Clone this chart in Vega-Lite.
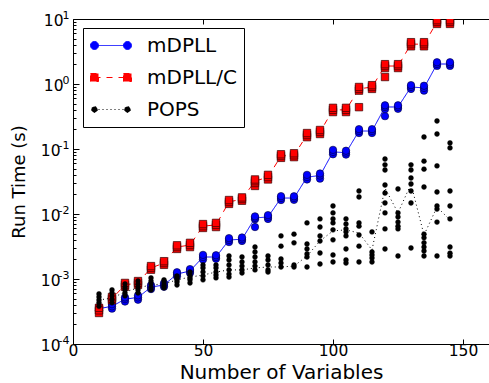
{
"$schema": "https://vega.github.io/schema/vega-lite/v6.json",
"width": 416, "height": 325,
"autosize": {"type": "none"},
"padding": {"left": 73, "top": 19, "right": 0, "bottom": 40},
"config": {"view": {"stroke": "black", "strokeWidth": 1}, "font": "DejaVu Sans"},
"datasets": {
"curve": [
{"x":10,"s":"mDPLL","t":0.00035},{"x":15,"s":"mDPLL","t":0.00038},{"x":20,"s":"mDPLL","t":0.00049},{"x":25,"s":"mDPLL","t":0.00052},{"x":30,"s":"mDPLL","t":0.00075},{"x":35,"s":"mDPLL","t":0.00081},{"x":40,"s":"mDPLL","t":0.00119},{"x":45,"s":"mDPLL","t":0.00133},{"x":50,"s":"mDPLL","t":0.00218},{"x":55,"s":"mDPLL","t":0.00218},{"x":60,"s":"mDPLL","t":0.00398},{"x":65,"s":"mDPLL","t":0.0041},{"x":70,"s":"mDPLL","t":0.0087},{"x":75,"s":"mDPLL","t":0.009},{"x":80,"s":"mDPLL","t":0.0176},{"x":85,"s":"mDPLL","t":0.0176},{"x":90,"s":"mDPLL","t":0.037},{"x":95,"s":"mDPLL","t":0.039},{"x":100,"s":"mDPLL","t":0.09},{"x":105,"s":"mDPLL","t":0.088},{"x":110,"s":"mDPLL","t":0.189},{"x":115,"s":"mDPLL","t":0.189},{"x":120,"s":"mDPLL","t":0.443},{"x":125,"s":"mDPLL","t":0.443},{"x":130,"s":"mDPLL","t":0.9},{"x":135,"s":"mDPLL","t":0.87},{"x":140,"s":"mDPLL","t":2.03},{"x":145,"s":"mDPLL","t":2.03},
{"x":10,"s":"mDPLL/C","t":0.00033},{"x":15,"s":"mDPLL/C","t":0.0005},{"x":20,"s":"mDPLL/C","t":0.00081},{"x":25,"s":"mDPLL/C","t":0.00087},{"x":30,"s":"mDPLL/C","t":0.00148},{"x":35,"s":"mDPLL/C","t":0.00176},{"x":40,"s":"mDPLL/C","t":0.0031},{"x":45,"s":"mDPLL/C","t":0.00333},{"x":50,"s":"mDPLL/C","t":0.0065},{"x":55,"s":"mDPLL/C","t":0.0068},{"x":60,"s":"mDPLL/C","t":0.0153},{"x":65,"s":"mDPLL/C","t":0.017},{"x":70,"s":"mDPLL/C","t":0.032},{"x":75,"s":"mDPLL/C","t":0.037},{"x":80,"s":"mDPLL/C","t":0.078},{"x":85,"s":"mDPLL/C","t":0.08},{"x":90,"s":"mDPLL/C","t":0.164},{"x":95,"s":"mDPLL/C","t":0.183},{"x":100,"s":"mDPLL/C","t":0.4},{"x":105,"s":"mDPLL/C","t":0.4},{"x":110,"s":"mDPLL/C","t":0.84},{"x":115,"s":"mDPLL/C","t":0.9},{"x":120,"s":"mDPLL/C","t":1.89},{"x":125,"s":"mDPLL/C","t":1.89},{"x":130,"s":"mDPLL/C","t":4.1},{"x":135,"s":"mDPLL/C","t":4.1},{"x":140,"s":"mDPLL/C","t":9.0},{"x":145,"s":"mDPLL/C","t":9.0},
{"x":10,"s":"POPS","t":0.000475},{"x":15,"s":"POPS","t":0.00051},{"x":20,"s":"POPS","t":0.00063},{"x":25,"s":"POPS","t":0.00073},{"x":30,"s":"POPS","t":0.00081},{"x":35,"s":"POPS","t":0.00084},{"x":40,"s":"POPS","t":0.00097},{"x":45,"s":"POPS","t":0.00107},{"x":50,"s":"POPS","t":0.00115},{"x":55,"s":"POPS","t":0.00128},{"x":60,"s":"POPS","t":0.00138},{"x":65,"s":"POPS","t":0.00138},{"x":70,"s":"POPS","t":0.00148},{"x":75,"s":"POPS","t":0.00153},{"x":80,"s":"POPS","t":0.00153},{"x":85,"s":"POPS","t":0.00158},{"x":90,"s":"POPS","t":0.00226},{"x":95,"s":"POPS","t":0.00385},{"x":100,"s":"POPS","t":0.0055},{"x":105,"s":"POPS","t":0.0057},{"x":110,"s":"POPS","t":0.0051},{"x":115,"s":"POPS","t":0.0028},{"x":120,"s":"POPS","t":0.025},{"x":125,"s":"POPS","t":0.0104},{"x":130,"s":"POPS","t":0.029},{"x":135,"s":"POPS","t":0.00475},{"x":140,"s":"POPS","t":0.0128},{"x":145,"s":"POPS","t":0.0081}
],
"runs": [
{"x":10,"s":"mDPLL","t":0.00033},{"x":10,"s":"mDPLL","t":0.00035},{"x":10,"s":"mDPLL","t":0.00037},
{"x":15,"s":"mDPLL","t":0.00035},{"x":15,"s":"mDPLL","t":0.00038},{"x":15,"s":"mDPLL","t":0.00041},
{"x":20,"s":"mDPLL","t":0.00045},{"x":20,"s":"mDPLL","t":0.00049},{"x":20,"s":"mDPLL","t":0.00052},
{"x":25,"s":"mDPLL","t":0.00048},{"x":25,"s":"mDPLL","t":0.00052},{"x":25,"s":"mDPLL","t":0.00056},
{"x":30,"s":"mDPLL","t":0.0007},{"x":30,"s":"mDPLL","t":0.00075},{"x":30,"s":"mDPLL","t":0.0008},
{"x":35,"s":"mDPLL","t":0.00076},{"x":35,"s":"mDPLL","t":0.00081},{"x":35,"s":"mDPLL","t":0.00086},
{"x":40,"s":"mDPLL","t":0.0011},{"x":40,"s":"mDPLL","t":0.00119},{"x":40,"s":"mDPLL","t":0.00127},
{"x":45,"s":"mDPLL","t":0.00124},{"x":45,"s":"mDPLL","t":0.00133},{"x":45,"s":"mDPLL","t":0.00142},
{"x":50,"s":"mDPLL","t":0.002},{"x":50,"s":"mDPLL","t":0.00218},{"x":50,"s":"mDPLL","t":0.00235},
{"x":55,"s":"mDPLL","t":0.00205},{"x":55,"s":"mDPLL","t":0.00218},{"x":55,"s":"mDPLL","t":0.00232},
{"x":60,"s":"mDPLL","t":0.0037},{"x":60,"s":"mDPLL","t":0.00398},{"x":60,"s":"mDPLL","t":0.00425},
{"x":65,"s":"mDPLL","t":0.00385},{"x":65,"s":"mDPLL","t":0.0041},{"x":65,"s":"mDPLL","t":0.00435},
{"x":70,"s":"mDPLL","t":0.0063},{"x":70,"s":"mDPLL","t":0.0083},{"x":70,"s":"mDPLL","t":0.0087},{"x":70,"s":"mDPLL","t":0.0092},
{"x":75,"s":"mDPLL","t":0.0084},{"x":75,"s":"mDPLL","t":0.009},{"x":75,"s":"mDPLL","t":0.0096},
{"x":80,"s":"mDPLL","t":0.0164},{"x":80,"s":"mDPLL","t":0.0176},{"x":80,"s":"mDPLL","t":0.0188},
{"x":85,"s":"mDPLL","t":0.0165},{"x":85,"s":"mDPLL","t":0.0176},{"x":85,"s":"mDPLL","t":0.0187},
{"x":90,"s":"mDPLL","t":0.034},{"x":90,"s":"mDPLL","t":0.037},{"x":90,"s":"mDPLL","t":0.04},
{"x":95,"s":"mDPLL","t":0.035},{"x":95,"s":"mDPLL","t":0.039},{"x":95,"s":"mDPLL","t":0.042},
{"x":100,"s":"mDPLL","t":0.083},{"x":100,"s":"mDPLL","t":0.09},{"x":100,"s":"mDPLL","t":0.097},
{"x":105,"s":"mDPLL","t":0.082},{"x":105,"s":"mDPLL","t":0.088},{"x":105,"s":"mDPLL","t":0.094},
{"x":110,"s":"mDPLL","t":0.176},{"x":110,"s":"mDPLL","t":0.189},{"x":110,"s":"mDPLL","t":0.202},
{"x":115,"s":"mDPLL","t":0.176},{"x":115,"s":"mDPLL","t":0.189},{"x":115,"s":"mDPLL","t":0.202},
{"x":120,"s":"mDPLL","t":0.32},{"x":120,"s":"mDPLL","t":0.41},{"x":120,"s":"mDPLL","t":0.443},{"x":120,"s":"mDPLL","t":0.47},
{"x":125,"s":"mDPLL","t":0.415},{"x":125,"s":"mDPLL","t":0.443},{"x":125,"s":"mDPLL","t":0.47},
{"x":130,"s":"mDPLL","t":0.84},{"x":130,"s":"mDPLL","t":0.9},{"x":130,"s":"mDPLL","t":0.96},
{"x":135,"s":"mDPLL","t":0.79},{"x":135,"s":"mDPLL","t":0.87},{"x":135,"s":"mDPLL","t":0.94},
{"x":140,"s":"mDPLL","t":1.9},{"x":140,"s":"mDPLL","t":2.03},{"x":140,"s":"mDPLL","t":2.16},
{"x":145,"s":"mDPLL","t":1.9},{"x":145,"s":"mDPLL","t":2.03},{"x":145,"s":"mDPLL","t":2.16},
{"x":10,"s":"mDPLL/C","t":0.0003},{"x":10,"s":"mDPLL/C","t":0.00033},{"x":10,"s":"mDPLL/C","t":0.00036},
{"x":15,"s":"mDPLL/C","t":0.00047},{"x":15,"s":"mDPLL/C","t":0.0005},{"x":15,"s":"mDPLL/C","t":0.00053},
{"x":20,"s":"mDPLL/C","t":0.00076},{"x":20,"s":"mDPLL/C","t":0.00081},{"x":20,"s":"mDPLL/C","t":0.00087},
{"x":25,"s":"mDPLL/C","t":0.00081},{"x":25,"s":"mDPLL/C","t":0.00087},{"x":25,"s":"mDPLL/C","t":0.00093},
{"x":30,"s":"mDPLL/C","t":0.00139},{"x":30,"s":"mDPLL/C","t":0.00148},{"x":30,"s":"mDPLL/C","t":0.00158},
{"x":35,"s":"mDPLL/C","t":0.00165},{"x":35,"s":"mDPLL/C","t":0.00176},{"x":35,"s":"mDPLL/C","t":0.00188},
{"x":40,"s":"mDPLL/C","t":0.0029},{"x":40,"s":"mDPLL/C","t":0.0031},{"x":40,"s":"mDPLL/C","t":0.0033},
{"x":45,"s":"mDPLL/C","t":0.0031},{"x":45,"s":"mDPLL/C","t":0.00333},{"x":45,"s":"mDPLL/C","t":0.0036},
{"x":50,"s":"mDPLL/C","t":0.0061},{"x":50,"s":"mDPLL/C","t":0.0065},{"x":50,"s":"mDPLL/C","t":0.007},
{"x":55,"s":"mDPLL/C","t":0.0063},{"x":55,"s":"mDPLL/C","t":0.0068},{"x":55,"s":"mDPLL/C","t":0.0073},
{"x":60,"s":"mDPLL/C","t":0.0143},{"x":60,"s":"mDPLL/C","t":0.0153},{"x":60,"s":"mDPLL/C","t":0.0164},
{"x":65,"s":"mDPLL/C","t":0.016},{"x":65,"s":"mDPLL/C","t":0.017},{"x":65,"s":"mDPLL/C","t":0.018},
{"x":70,"s":"mDPLL/C","t":0.027},{"x":70,"s":"mDPLL/C","t":0.03},{"x":70,"s":"mDPLL/C","t":0.032},{"x":70,"s":"mDPLL/C","t":0.034},
{"x":75,"s":"mDPLL/C","t":0.034},{"x":75,"s":"mDPLL/C","t":0.037},{"x":75,"s":"mDPLL/C","t":0.04},
{"x":80,"s":"mDPLL/C","t":0.073},{"x":80,"s":"mDPLL/C","t":0.078},{"x":80,"s":"mDPLL/C","t":0.083},
{"x":85,"s":"mDPLL/C","t":0.075},{"x":85,"s":"mDPLL/C","t":0.08},{"x":85,"s":"mDPLL/C","t":0.086},
{"x":90,"s":"mDPLL/C","t":0.152},{"x":90,"s":"mDPLL/C","t":0.164},{"x":90,"s":"mDPLL/C","t":0.176},
{"x":95,"s":"mDPLL/C","t":0.17},{"x":95,"s":"mDPLL/C","t":0.183},{"x":95,"s":"mDPLL/C","t":0.196},
{"x":100,"s":"mDPLL/C","t":0.37},{"x":100,"s":"mDPLL/C","t":0.4},{"x":100,"s":"mDPLL/C","t":0.43},
{"x":105,"s":"mDPLL/C","t":0.37},{"x":105,"s":"mDPLL/C","t":0.4},{"x":105,"s":"mDPLL/C","t":0.43},
{"x":110,"s":"mDPLL/C","t":0.44},{"x":110,"s":"mDPLL/C","t":0.79},{"x":110,"s":"mDPLL/C","t":0.84},{"x":110,"s":"mDPLL/C","t":0.9},
{"x":115,"s":"mDPLL/C","t":0.84},{"x":115,"s":"mDPLL/C","t":0.9},{"x":115,"s":"mDPLL/C","t":0.96},
{"x":120,"s":"mDPLL/C","t":1.28},{"x":120,"s":"mDPLL/C","t":1.76},{"x":120,"s":"mDPLL/C","t":1.89},{"x":120,"s":"mDPLL/C","t":2.02},
{"x":125,"s":"mDPLL/C","t":1.76},{"x":125,"s":"mDPLL/C","t":1.89},{"x":125,"s":"mDPLL/C","t":2.02},
{"x":130,"s":"mDPLL/C","t":3.8},{"x":130,"s":"mDPLL/C","t":4.1},{"x":130,"s":"mDPLL/C","t":4.4},
{"x":135,"s":"mDPLL/C","t":3.8},{"x":135,"s":"mDPLL/C","t":4.1},{"x":135,"s":"mDPLL/C","t":4.4},
{"x":140,"s":"mDPLL/C","t":8.4},{"x":140,"s":"mDPLL/C","t":9.0},{"x":140,"s":"mDPLL/C","t":9.6},
{"x":145,"s":"mDPLL/C","t":8.4},{"x":145,"s":"mDPLL/C","t":9.0},{"x":145,"s":"mDPLL/C","t":9.6},
{"x":10,"s":"POPS","t":0.00059},{"x":10,"s":"POPS","t":0.00053},{"x":10,"s":"POPS","t":0.000475},{"x":10,"s":"POPS","t":0.00043},{"x":10,"s":"POPS","t":0.00038},
{"x":15,"s":"POPS","t":0.00068},{"x":15,"s":"POPS","t":0.00061},{"x":15,"s":"POPS","t":0.00055},{"x":15,"s":"POPS","t":0.00049},{"x":15,"s":"POPS","t":0.00043},
{"x":20,"s":"POPS","t":0.00084},{"x":20,"s":"POPS","t":0.00075},{"x":20,"s":"POPS","t":0.00068},{"x":20,"s":"POPS","t":0.00061},{"x":20,"s":"POPS","t":0.00055},
{"x":25,"s":"POPS","t":0.00093},{"x":25,"s":"POPS","t":0.00084},{"x":25,"s":"POPS","t":0.00075},{"x":25,"s":"POPS","t":0.00068},{"x":25,"s":"POPS","t":0.00061},
{"x":30,"s":"POPS","t":0.00104},{"x":30,"s":"POPS","t":0.00093},{"x":30,"s":"POPS","t":0.00084},{"x":30,"s":"POPS","t":0.00075},{"x":30,"s":"POPS","t":0.00068},
{"x":35,"s":"POPS","t":0.00097},{"x":35,"s":"POPS","t":0.0009},{"x":35,"s":"POPS","t":0.00084},{"x":35,"s":"POPS","t":0.00078},{"x":35,"s":"POPS","t":0.00073},
{"x":40,"s":"POPS","t":0.00111},{"x":40,"s":"POPS","t":0.00104},{"x":40,"s":"POPS","t":0.00097},{"x":40,"s":"POPS","t":0.0009},{"x":40,"s":"POPS","t":0.00081},
{"x":45,"s":"POPS","t":0.00128},{"x":45,"s":"POPS","t":0.00115},{"x":45,"s":"POPS","t":0.00104},{"x":45,"s":"POPS","t":0.00097},{"x":45,"s":"POPS","t":0.00087},
{"x":50,"s":"POPS","t":0.00164},{"x":50,"s":"POPS","t":0.00148},{"x":50,"s":"POPS","t":0.00128},{"x":50,"s":"POPS","t":0.00111},{"x":50,"s":"POPS","t":0.00097},
{"x":55,"s":"POPS","t":0.00164},{"x":55,"s":"POPS","t":0.00148},{"x":55,"s":"POPS","t":0.00128},{"x":55,"s":"POPS","t":0.00115},{"x":55,"s":"POPS","t":0.00104},
{"x":60,"s":"POPS","t":0.00226},{"x":60,"s":"POPS","t":0.00196},{"x":60,"s":"POPS","t":0.00164},{"x":60,"s":"POPS","t":0.00138},{"x":60,"s":"POPS","t":0.00119},{"x":60,"s":"POPS","t":0.00107},
{"x":65,"s":"POPS","t":0.00218},{"x":65,"s":"POPS","t":0.00183},{"x":65,"s":"POPS","t":0.00158},{"x":65,"s":"POPS","t":0.00138},{"x":65,"s":"POPS","t":0.00124},
{"x":70,"s":"POPS","t":0.0031},{"x":70,"s":"POPS","t":0.0026},{"x":70,"s":"POPS","t":0.00218},{"x":70,"s":"POPS","t":0.00183},{"x":70,"s":"POPS","t":0.00158},{"x":70,"s":"POPS","t":0.00138},
{"x":75,"s":"POPS","t":0.00226},{"x":75,"s":"POPS","t":0.00196},{"x":75,"s":"POPS","t":0.00164},{"x":75,"s":"POPS","t":0.00138},{"x":75,"s":"POPS","t":0.00128},
{"x":80,"s":"POPS","t":0.0046},{"x":80,"s":"POPS","t":0.0032},{"x":80,"s":"POPS","t":0.00203},{"x":80,"s":"POPS","t":0.00176},{"x":80,"s":"POPS","t":0.00153},
{"x":85,"s":"POPS","t":0.0049},{"x":85,"s":"POPS","t":0.0036},{"x":85,"s":"POPS","t":0.00164},{"x":85,"s":"POPS","t":0.00153},
{"x":90,"s":"POPS","t":0.0073},{"x":90,"s":"POPS","t":0.00345},{"x":90,"s":"POPS","t":0.0029},{"x":90,"s":"POPS","t":0.00243},{"x":90,"s":"POPS","t":0.00218},{"x":90,"s":"POPS","t":0.00153},
{"x":95,"s":"POPS","t":0.0084},{"x":95,"s":"POPS","t":0.0063},{"x":95,"s":"POPS","t":0.0046},{"x":95,"s":"POPS","t":0.00384},{"x":95,"s":"POPS","t":0.00251},{"x":95,"s":"POPS","t":0.0017},
{"x":100,"s":"POPS","t":0.0133},{"x":100,"s":"POPS","t":0.0104},{"x":100,"s":"POPS","t":0.0084},{"x":100,"s":"POPS","t":0.0073},{"x":100,"s":"POPS","t":0.0057},{"x":100,"s":"POPS","t":0.004},{"x":100,"s":"POPS","t":0.00234},{"x":100,"s":"POPS","t":0.00183},
{"x":105,"s":"POPS","t":0.0084},{"x":105,"s":"POPS","t":0.007},{"x":105,"s":"POPS","t":0.0059},{"x":105,"s":"POPS","t":0.0053},{"x":105,"s":"POPS","t":0.0046},{"x":105,"s":"POPS","t":0.0029},{"x":105,"s":"POPS","t":0.00196},{"x":105,"s":"POPS","t":0.00176},
{"x":110,"s":"POPS","t":0.0226},{"x":110,"s":"POPS","t":0.0183},{"x":110,"s":"POPS","t":0.0073},{"x":110,"s":"POPS","t":0.0065},{"x":110,"s":"POPS","t":0.00475},{"x":110,"s":"POPS","t":0.0032},{"x":110,"s":"POPS","t":0.00183},
{"x":115,"s":"POPS","t":0.0053},{"x":115,"s":"POPS","t":0.0026},{"x":115,"s":"POPS","t":0.00234},{"x":115,"s":"POPS","t":0.0021},{"x":115,"s":"POPS","t":0.00183},
{"x":120,"s":"POPS","t":0.07},{"x":120,"s":"POPS","t":0.057},{"x":120,"s":"POPS","t":0.0475},{"x":120,"s":"POPS","t":0.0279},{"x":120,"s":"POPS","t":0.021},{"x":120,"s":"POPS","t":0.0148},{"x":120,"s":"POPS","t":0.0104},{"x":120,"s":"POPS","t":0.0059},{"x":120,"s":"POPS","t":0.0029},
{"x":125,"s":"POPS","t":0.0243},{"x":125,"s":"POPS","t":0.0104},{"x":125,"s":"POPS","t":0.009},{"x":125,"s":"POPS","t":0.0075},{"x":125,"s":"POPS","t":0.0065},{"x":125,"s":"POPS","t":0.0059},{"x":125,"s":"POPS","t":0.00226},
{"x":130,"s":"POPS","t":0.057},{"x":130,"s":"POPS","t":0.0475},{"x":130,"s":"POPS","t":0.0358},{"x":130,"s":"POPS","t":0.029},{"x":130,"s":"POPS","t":0.0226},{"x":130,"s":"POPS","t":0.0148},{"x":130,"s":"POPS","t":0.003},
{"x":135,"s":"POPS","t":0.153},{"x":135,"s":"POPS","t":0.065},{"x":135,"s":"POPS","t":0.049},{"x":135,"s":"POPS","t":0.026},{"x":135,"s":"POPS","t":0.0049},{"x":135,"s":"POPS","t":0.0043},{"x":135,"s":"POPS","t":0.0036},{"x":135,"s":"POPS","t":0.0031},{"x":135,"s":"POPS","t":0.0027},{"x":135,"s":"POPS","t":0.00226},
{"x":140,"s":"POPS","t":0.27},{"x":140,"s":"POPS","t":0.17},{"x":140,"s":"POPS","t":0.055},{"x":140,"s":"POPS","t":0.0218},{"x":140,"s":"POPS","t":0.0133},{"x":140,"s":"POPS","t":0.0119},{"x":140,"s":"POPS","t":0.0075},{"x":140,"s":"POPS","t":0.00226},
{"x":145,"s":"POPS","t":0.124},{"x":145,"s":"POPS","t":0.104},{"x":145,"s":"POPS","t":0.0226},{"x":145,"s":"POPS","t":0.0133},{"x":145,"s":"POPS","t":0.0084},{"x":145,"s":"POPS","t":0.0031},{"x":145,"s":"POPS","t":0.0025},{"x":145,"s":"POPS","t":0.00226}
]
},
"encoding": {
"color": {"field": "s", "type": "nominal", "scale": {"domain": ["mDPLL", "mDPLL/C", "POPS"], "range": ["#0000ff", "#ff0000", "#000000"]},
 "legend": {"title": null, "orient": "none", "legendX": 10, "legendY": 9, "labelFont": "DejaVu Sans", "labelFontSize": 20, "labelColor": "black", "labelBaseline": "middle",
  "strokeColor": "black", "fillColor": "white", "padding": 7, "rowPadding": 11, "symbolSize": 400, "symbolStrokeWidth": 1, "labelOffset": 36,
  "encode": {"symbols": {"update": {
   "shape": {"signal": "datum.value === 'mDPLL' ? 'M-0.6,0L2.7,0M-1,0a0.4,0.4 0 1,0 0.8,0a0.4,0.4 0 1,0 -0.8,0M2.3,0a0.4,0.4 0 1,0 0.8,0a0.4,0.4 0 1,0 -0.8,0' : datum.value === 'mDPLL/C' ? 'M-0.6,0L2.7,0M-1,-0.4h0.8v0.8h-0.8zM2.3,-0.4h0.8v0.8h-0.8z' : 'M-0.6,0L2.7,0M-0.9,0a0.3,0.3 0 1,0 0.6,0a0.3,0.3 0 1,0 -0.6,0M2.4,0a0.3,0.3 0 1,0 0.6,0a0.3,0.3 0 1,0 -0.6,0'"},
   "size": {"value": 400},
   "strokeDash": {"signal": "datum.value === 'mDPLL/C' ? [6,6] : datum.value === 'POPS' ? [1,3] : [1,0]"},
   "fill": {"signal": "scale('color', datum.value)"},
   "stroke": {"signal": "scale('color', datum.value)"},
   "strokeWidth": {"value": 1},
   "opacity": {"value": 1}
  }}}}}
},
"layer": [
{
"data": {"name": "curve"},
"mark": {"type": "line", "strokeWidth": 1, "clip": true},
"encoding": {
"x": {"field": "x", "type": "quantitative", "scale": {"domain": [0, 160], "nice": false, "zero": false},
 "axis": {"orient": "bottom", "values": [0, 50, 100, 150], "title": "Number of Variables", "titleFont": "DejaVu Sans", "titleFontSize": 20, "titleFontWeight": "normal", "titleColor": "black", "titlePadding": 4,
  "labelFont": "DejaVu Sans", "labelFontSize": 15.5, "labelColor": "black", "labelPadding": 4, "labelFlush": false, "labelOverlap": false,
  "tickSize": -5, "tickColor": "black", "tickWidth": 1, "domain": false, "grid": false}},
"y": {"field": "t", "type": "quantitative", "scale": {"type": "log", "domain": [0.0001, 10], "nice": false},
 "axis": {"orient": "left", "values": [0.0001,0.0002,0.0003,0.0004,0.0005,0.0006,0.0007,0.0008,0.0009,0.001,0.002,0.003,0.004,0.005,0.006,0.007,0.008,0.009,0.01,0.02,0.03,0.04,0.05,0.06,0.07,0.08,0.09,0.1,0.2,0.3,0.4,0.5,0.6,0.7,0.8,0.9,1,2,3,4,5,6,7,8,9,10],
  "labelExpr": "(datum.value == 0.0001 || datum.value == 0.001 || datum.value == 0.01 || datum.value == 0.1 || datum.value == 1 || datum.value == 10) ? '10' : ''",
  "title": "Run Time (s)", "titleFont": "DejaVu Sans", "titleFontSize": 18, "titleFontWeight": "normal", "titleColor": "black", "titlePadding": 12,
  "labelFont": "DejaVu Sans", "labelFontSize": 15.5, "labelColor": "black", "labelOffset": 1,
  "labelPadding": {"condition": {"test": "datum.value < 0.5", "value": 19}, "value": 16},
  "labelFlush": false, "labelOverlap": false, "labelBound": false,
  "tickSize": {"condition": {"test": "datum.value == 0.0001 || datum.value == 0.001 || datum.value == 0.01 || datum.value == 0.1 || datum.value == 1 || datum.value == 10", "value": -6}, "value": -3},
  "tickColor": "black", "tickWidth": 1, "domain": false, "grid": false}},
"strokeDash": {"field": "s", "type": "nominal", "scale": {"domain": ["mDPLL", "mDPLL/C", "POPS"], "range": [[1, 0], [6, 6], [1, 3]]}, "legend": null}
}
},
{
"data": {"name": "runs"},
"transform": [{"filter": "datum.s === 'mDPLL'"}],
"mark": {"type": "point", "shape": "circle", "size": 55, "filled": true, "opacity": 1, "stroke": "#000033", "strokeWidth": 0.6, "clip": true},
"encoding": {
"x": {"field": "x", "type": "quantitative", "scale": {"domain": [0, 160], "nice": false, "zero": false}, "axis": null},
"y": {"field": "t", "type": "quantitative", "scale": {"type": "log", "domain": [0.0001, 10], "nice": false}, "axis": null}
}
},
{
"data": {"name": "runs"},
"transform": [{"filter": "datum.s === 'mDPLL/C'"}],
"mark": {"type": "point", "shape": "square", "size": 55, "filled": true, "opacity": 1, "stroke": "#330000", "strokeWidth": 0.7, "clip": true},
"encoding": {
"x": {"field": "x", "type": "quantitative", "scale": {"domain": [0, 160], "nice": false, "zero": false}, "axis": null},
"y": {"field": "t", "type": "quantitative", "scale": {"type": "log", "domain": [0.0001, 10], "nice": false}, "axis": null}
}
},
{
"data": {"name": "runs"},
"transform": [{"filter": "datum.s === 'POPS'"}],
"mark": {"type": "point", "shape": "circle", "size": 24, "filled": true, "opacity": 1, "stroke": "black", "strokeWidth": 0.5, "clip": true},
"encoding": {
"x": {"field": "x", "type": "quantitative", "scale": {"domain": [0, 160], "nice": false, "zero": false},
 "axis": {"orient": "top", "values": [0, 50, 100, 150], "labels": false, "title": null, "tickSize": -5, "tickColor": "black", "domain": false, "grid": false}},
"y": {"field": "t", "type": "quantitative", "scale": {"type": "log", "domain": [0.0001, 10], "nice": false},
 "axis": {"orient": "left", "values": [0.0001, 0.001, 0.01, 0.1, 1, 10],
  "labelExpr": "datum.value == 0.0001 ? '-4' : datum.value == 0.001 ? '-3' : datum.value == 0.01 ? '-2' : datum.value == 0.1 ? '-1' : datum.value == 1 ? '0' : '1'",
  "title": null, "ticks": false, "domain": false, "grid": false,
  "labelFont": "DejaVu Sans", "labelFontSize": 11, "labelColor": "black", "labelOffset": -4, "labelPadding": 4, "labelFlush": false, "labelOverlap": false, "labelBound": false}}
}
}
],
"resolve": {"axis": {"x": "independent", "y": "independent"}}
}
